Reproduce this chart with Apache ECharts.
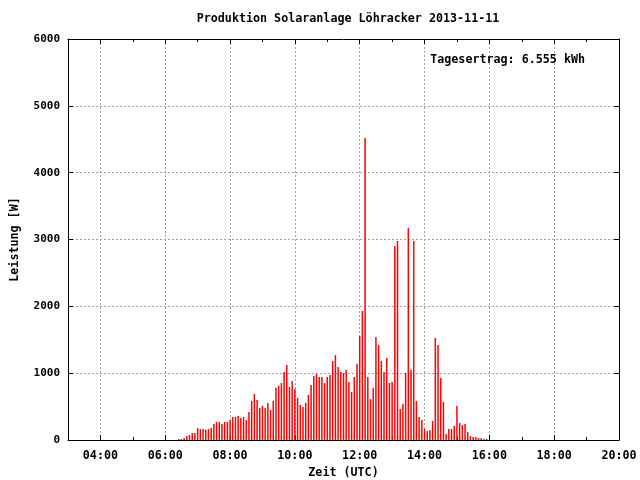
<!DOCTYPE html>
<html>
<head>
<meta charset="utf-8">
<script src="https://cdn.jsdelivr.net/npm/echarts@6/dist/echarts.min.js"></script>
<style>html,body{margin:0;padding:0;background:#fff}#c{width:640px;height:480px}</style>
</head>
<body>
<div id="c"></div>
<script>
// Time of each 5-minute sample (UTC)
const times = [
 "06:25","06:30","06:35","06:40","06:45","06:50","06:55",
 "07:00","07:05","07:10","07:15","07:20","07:25","07:30","07:35","07:40","07:45","07:50","07:55",
 "08:00","08:05","08:10","08:15","08:20","08:25","08:30","08:35","08:40","08:45","08:50","08:55",
 "09:00","09:05","09:10","09:15","09:20","09:25","09:30","09:35","09:40","09:45","09:50","09:55",
 "10:00","10:05","10:10","10:15","10:20","10:25","10:30","10:35","10:40","10:45","10:50","10:55",
 "11:00","11:05","11:10","11:15","11:20","11:25","11:30","11:35","11:40","11:45","11:50","11:55",
 "12:00","12:05","12:10","12:15","12:20","12:25","12:30","12:35","12:40","12:45","12:50","12:55",
 "13:00","13:05","13:10","13:15","13:20","13:25","13:30","13:35","13:40","13:45","13:50","13:55",
 "14:00","14:05","14:10","14:15","14:20","14:25","14:30","14:35","14:40","14:45","14:50","14:55",
 "15:00","15:05","15:10","15:15","15:20","15:25","15:30","15:35","15:40","15:45","15:50","15:55"
];
// Power in W
const power = [
 15,15,30,60,75,105,105,
 180,165,165,155,165,180,240,270,270,240,270,270,
 300,345,345,360,330,345,300,420,585,690,600,480,
 510,480,555,450,585,780,810,853,1017,1122,793,883,
 763,628,524,494,554,673,823,958,988,943,943,853,
 943,973,1182,1272,1092,1017,1002,1047,868,718,943,1137,
 1556,1930,4519,943,614,778,1541,1422,1182,1018,1227,853,
 868,2903,2978,464,539,1003,3172,1047,2978,584,344,299,
 168,135,150,284,1526,1422,928,569,90,165,165,209,
 509,254,224,239,120,60,45,45,30,30,15,15
];
const xMajorTicks = [4,6,8,10,12,14,16,18,20];
const yTicks = [0,1000,2000,3000,4000,5000,6000];
const titleText = "Produktion Solaranlage Löhracker 2013-11-11";
const keyText = "Tagesertrag: 6.555 kWh";
const xName = "Zeit (UTC)";
const yName = "Leistung [W]";

const toHours = s => { const p = s.split(':'); return +p[0] + (+p[1]) / 60; };
const fmtHour = v => (v < 10 ? '0' : '') + Math.round(v) + ':00';
const seriesData = times.map((t, i) => [toHours(t), power[i]]);

const FONT = '"DejaVu Sans Mono", monospace';
const txt = { fontFamily: FONT, fontSize: 11.7, fontWeight: 'bold', color: '#000' };
const gridLine = { show: true, lineStyle: { color: '#a0a0a0', type: [2, 2], width: 1 } };
const axLine = { show: true, lineStyle: { color: '#000', width: 1 } };

const chart = echarts.init(document.getElementById('c'), null, { renderer: 'canvas' });
chart.setOption({
  animation: false,
  backgroundColor: '#fff',
  title: [
    { text: titleText, left: 343, textAlign: 'center', top: 8, textStyle: Object.assign({}, txt) },
    { text: keyText, right: 50, top: 49, textStyle: Object.assign({}, txt) }
  ],
  grid: { left: 68, right: 21, top: 39, bottom: 40, containLabel: false, outerBoundsMode: 'none' },
  xAxis: [
    { type: 'value', position: 'bottom', min: 3, max: 20,
      name: xName, nameLocation: 'middle', nameGap: 27, nameTextStyle: Object.assign({}, txt),
      axisLine: axLine,
      axisTick: { show: true, inside: true, length: 5, customValues: xMajorTicks, lineStyle: { color: '#000' } },
      axisLabel: { show: true, customValues: xMajorTicks, margin: 10, formatter: fmtHour, ...txt },
      splitLine: gridLine },
    { type: 'value', position: 'bottom', min: 3, max: 20, interval: 1,
      axisLine: { show: false },
      axisTick: { show: true, inside: true, length: 3, lineStyle: { color: '#000' } },
      axisLabel: { show: false }, splitLine: { show: false } },
    { type: 'value', position: 'top', min: 3, max: 20,
      axisLine: axLine,
      axisTick: { show: true, inside: true, length: 5, customValues: xMajorTicks, lineStyle: { color: '#000' } },
      axisLabel: { show: false }, splitLine: { show: false } },
    { type: 'value', position: 'top', min: 3, max: 20, interval: 1,
      axisLine: { show: false },
      axisTick: { show: true, inside: true, length: 3, lineStyle: { color: '#000' } },
      axisLabel: { show: false }, splitLine: { show: false } }
  ],
  yAxis: [
    { type: 'value', position: 'left', min: 0, max: 6000,
      name: yName, nameLocation: 'middle', nameGap: 47, nameRotate: 90, nameTextStyle: Object.assign({}, txt),
      axisLine: axLine,
      axisTick: { show: true, inside: true, length: 5, customValues: yTicks, lineStyle: { color: '#000' } },
      axisLabel: { show: true, margin: 8, customValues: yTicks, formatter: v => String(v), ...txt, fontSize: 11 },
      splitLine: gridLine },
    { type: 'value', position: 'right', min: 0, max: 6000,
      axisLine: axLine,
      axisTick: { show: true, inside: true, length: 5, customValues: yTicks, lineStyle: { color: '#000' } },
      axisLabel: { show: false }, splitLine: { show: false } }
  ],
  series: [{
    type: 'bar', xAxisIndex: 0, yAxisIndex: 0,
    data: seriesData, barWidth: 1.5,
    itemStyle: { color: '#ff0000' },
    silent: true
  }]
});
</script>
</body>
</html>
